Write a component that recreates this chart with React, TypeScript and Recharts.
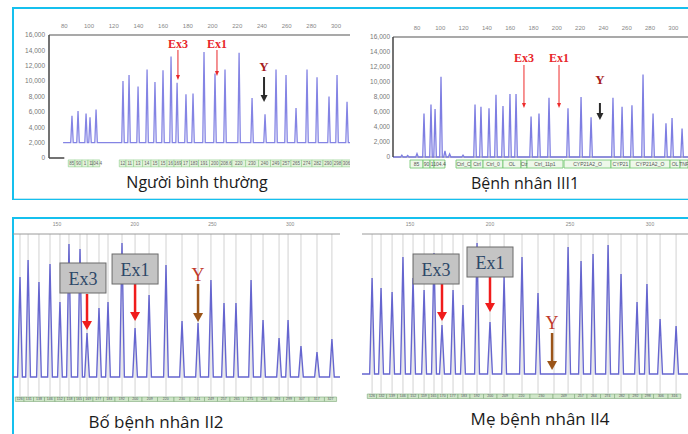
import React from 'react';
import { LineChart, Line, XAxis, YAxis, ReferenceLine, ReferenceArea, ReferenceDot } from 'recharts';

// ---- Người bình thường (top left) ----
const tlSizes = [86.2, 91.1, 97.6, 100.8, 105.7, 127.5, 132.4, 139.7, 147, 153.4, 159.9, 166.4, 171.3, 178.5, 184.2, 193.1, 202, 210.1, 221.5, 232, 242.5, 251.4, 259.5, 267.6, 276.5, 284.6, 294.3, 300.8, 308.9];
const tlHeights = [5500, 6100, 5800, 5300, 6300, 10000, 10800, 9300, 11500, 9900, 11400, 13200, 9800, 8300, 8400, 13800, 11000, 11500, 13700, 7800, 5700, 11500, 10800, 6500, 11500, 10500, 8000, 10800, 7300];
const tlLabels = ['85', '90', '1', '1', '104.4', '12', '11', '13', '14', '15', '15', '16', '169', '17', '183', '191', '200', '208.6', '220', '230', '240', '249', '257', '265', '274', '282', '290', '298', '306'];
const tlRuler = [80, 100, 120, 140, 160, 180, 200, 220, 240, 260, 280, 300];
const tlAnnText = ['Ex3', 'Ex1', 'Y'];
const tlAnnX = [172, 203.6, 241.7];
const tlAnnLabelY = [14830, 14830, 11840];
const tlAnnFrom = [14050, 14050, 10540];
const tlAnnTo = [10150, 10670, 7280];

// ---- Bệnh nhân III1 (top right) ----
const trSizes = [86, 92, 95.5, 100.6, 129.8, 134.9, 141.8, 147.8, 153.8, 159.8, 165, 177.9, 184.7, 193.3, 209.6, 220.8, 229.4, 248.2, 256, 264.5, 274, 282.6, 293.7, 298.9, 307.5];
const trHeights = [5800, 7000, 6400, 10700, 7000, 6700, 6500, 8300, 6800, 8400, 8400, 5400, 5800, 7900, 6500, 8000, 5300, 7900, 6700, 6900, 11000, 5800, 4500, 5200, 3800];
const trMinorSizes = [67, 72, 80, 104, 108, 119.5];
const trMinorHeights = [250, 200, 450, 800, 400, 250];
const trLabelText = ['85', '90', '1', '104.4', 'Ctrl_C', 'Ctrl', 'Ctrl_0', 'OL', 'Ctr', 'Ctrl_11p1', 'CYP21A2_O', 'CYP21', 'CYP21A2_O', 'OL', 'TNF'];
const trLabelFrom = [74, 85.2, 91.2, 94.6, 113.5, 126.4, 136.7, 153.8, 169.3, 174.4, 206.2, 246.5, 262.8, 297.2, 305.8];
const trLabelTo = [85.2, 91.2, 94.6, 104, 126.4, 136.7, 153.8, 169.3, 174.4, 205.3, 246.5, 262.8, 297.2, 305.8, 312.6];
const trRuler = [80, 100, 120, 140, 160, 180, 200, 220, 240, 260, 280, 300];
const trAnnText = ['Ex3', 'Ex1', 'Y'];
const trAnnX = [171.8, 201.9, 237];
const trAnnLabelY = [13200, 13200, 10400];
const trAnnFrom = [12270, 12270, 7200];
const trAnnTo = [6530, 6530, 4930];

// ---- Bố bệnh nhân II2 (bottom left) ----
const blSizes = [126.2, 131.4, 138.4, 145.5, 151.9, 157.7, 164.8, 169.3, 177, 182.8, 191.8, 200.2, 209.2, 220.1, 230.4, 240.7, 249, 257.4, 265.1, 274.8, 282.5, 292.8, 298.6, 306.9, 317.2, 326.8];
const blHeights = [10000, 11700, 9500, 11300, 7500, 13300, 12800, 4400, 6900, 7500, 13400, 4900, 8200, 11200, 5600, 5400, 9700, 7400, 7400, 9700, 5700, 3900, 5700, 3100, 2500, 3800];
const blRuler = [150, 200, 250, 300];
const blAnnText = ['Ex3', 'Ex1', 'Y'];
const blAnnX = [169.3, 200.2, 240.7];
const blBoxX = [166.7, 200.2, 240.7];
const blLabelY = [9900, 10800, 10200];
const blAnnFrom = [8300, 9300, 9300];
const blAnnTo = [4700, 5600, 5500];

// ---- Mẹ bệnh nhân II4 (bottom right) ----
const brSizes = [126.3, 131.9, 138.8, 145.6, 151.9, 158.8, 165, 170, 176.9, 183.1, 191.9, 200, 208.8, 220, 230, 248.8, 256.9, 264.4, 273.8, 281.9, 291.9, 298.1, 306.3, 316.3];
const brHeights = [9600, 8600, 8200, 11700, 9600, 8400, 12100, 4900, 8400, 6900, 13100, 5200, 9700, 11700, 8100, 12700, 11300, 12000, 12900, 10000, 7200, 9000, 5500, 4800];
const brRuler = [150, 200, 250, 300];
const brAnnText = ['Ex3', 'Ex1', 'Y'];
const brAnnX = [170, 200, 238.8];
const brBoxX = [166.3, 200, 238.8];
const brLabelY = [10500, 11200, 5100];
const brAnnFrom = [9000, 9700, 4100];
const brAnnTo = [5300, 6200, 400];

const CYAN = '#15c0ee';
const SANS = 'Liberation Sans, Arial, sans-serif';

function buildTrace(sizes: number[], heights: number[], base: number, hw: number, start: number, end: number) {
  const pts = [{ x: start, y: base }, { x: end, y: base }];
  sizes.forEach((s, i) => {
    pts.push({ x: s - hw, y: base }, { x: s, y: heights[i] }, { x: s + hw, y: base });
  });
  return pts.sort((a, b) => a.x - b.x);
}

// label boxes from neighbouring peaks
function labelBoxes(sizes: number[], gap: number) {
  return sizes.map((s, i) => {
    const prev = sizes[i - 1];
    const next = sizes[i + 1];
    const left = prev !== undefined && s - prev < gap ? (prev + s) / 2 : s - 3;
    const right = next !== undefined && next - s < gap ? (s + next) / 2 : s + 3;
    return [left, right];
  });
}

const fmt = (v: number) => v.toLocaleString('en-US');

const arrowShape = (color: string, w: number, headW: number, headH: number) => (p: any) => {
  const { x1, y1, x2, y2 } = p;
  if (x1 == null) return <g />;
  return (
    <g>
      <line x1={x1} y1={y1} x2={x2} y2={y2 - headH + 1} stroke={color} strokeWidth={w} />
      <polygon points={`${x2 - headW / 2},${y2 - headH} ${x2 + headW / 2},${y2 - headH} ${x2},${y2}`} fill={color} />
    </g>
  );
};

const textShape = (text: string, color: string, size: number, family: string, weight: string) => (p: any) => (
  <text x={p.cx} y={p.cy} textAnchor="middle" dominantBaseline="central" fill={color} fontSize={size} fontFamily={family} fontWeight={weight}>
    {text}
  </text>
);

const boxShape = (text: string) => (p: any) => (
  <g>
    <rect x={p.cx - 23} y={p.cy - 15} width={46} height={30} fill="#c4c4c4" stroke="#6b6b6b" strokeWidth={1} />
    <text x={p.cx} y={p.cy + 1} textAnchor="middle" dominantBaseline="central" fill="#2e4868" fontSize={18} fontFamily="Liberation Serif, DejaVu Serif, serif">
      {text}
    </text>
  </g>
);

const tickStyle = { fontSize: 6.5, fill: '#777', fontFamily: SANS };
const rulerStyle = { fontSize: 6, fill: '#888', fontFamily: SANS };
const titleStyle: React.CSSProperties = {
  position: 'absolute',
  fontFamily: '"Open Sans", "Noto Sans", sans-serif',
  color: '#1b1b1b',
  lineHeight: 1,
  whiteSpace: 'nowrap',
  transform: 'translateX(-50%)',
};

const NormalChart = () => {
  const data = buildTrace(tlSizes, tlHeights, 2000, 1.0, 79, 311.3);
  const boxes = labelBoxes(tlSizes, 12);
  return (
    <LineChart width={350} height={200} data={data} margin={{ top: 23, right: 0, bottom: 42, left: 0 }}>
      <XAxis dataKey="x" type="number" orientation="top" height={12} domain={[67.6, 311.3]} ticks={tlRuler}
        tickLine={false} tick={rulerStyle} tickMargin={1} axisLine={{ stroke: '#555', strokeWidth: 1.2 }} allowDataOverflow />
      <YAxis type="number" width={49} domain={[0, 16000]} ticks={[0, 2000, 4000, 6000, 8000, 10000, 12000, 14000, 16000]}
        tickFormatter={fmt} tickLine={false} tickSize={2} tick={tickStyle} axisLine={{ stroke: '#444', strokeWidth: 1.5 }} />
      <ReferenceLine segment={[{ x: 67.6, y: 0 }, { x: 80, y: 0 }]} stroke="#444" strokeWidth={1.5} />
      {boxes.map((b, i) => (
        <ReferenceArea key={'l' + i} x1={b[0]} x2={b[1]} y1={-250} y2={-1150} ifOverflow="visible"
          fill="#e3f3dc" fillOpacity={1} stroke="#8fcf8a" strokeWidth={0.6}
          label={{ value: tlLabels[i], position: 'center', fontSize: 4.5, fill: '#666', fontFamily: SANS }} />
      ))}
      <Line type="linear" dataKey="y" stroke="#8484e4" strokeWidth={1.3} dot={false} isAnimationActive={false} />
      {tlAnnText.map((t, i) => (
        <ReferenceLine key={'a' + i} segment={[{ x: tlAnnX[i], y: tlAnnFrom[i] }, { x: tlAnnX[i], y: tlAnnTo[i] }]}
          shape={t === 'Y' ? arrowShape('#2a2a2a', 2, 7, 7) : arrowShape('#e8262a', 1, 4, 5)} />
      ))}
      {tlAnnText.map((t, i) => (
        <ReferenceDot key={'t' + i} x={tlAnnX[i]} y={tlAnnLabelY[i]} r={0}
          shape={textShape(t, t === 'Y' ? '#a61d1d' : '#e8262a', t === 'Y' ? 13 : 12, 'Liberation Serif, serif', 'bold')} />
      ))}
    </LineChart>
  );
};

const PatientChart = () => {
  const data = buildTrace(trSizes.concat(trMinorSizes), trHeights.concat(trMinorHeights), 0, 1.1, 59.4, 312.6);
  return (
    <LineChart width={343} height={200} data={data} margin={{ top: 25, right: 0, bottom: 43, left: 0 }}>
      <XAxis dataKey="x" type="number" orientation="top" height={12} domain={[59.4, 312.6]} ticks={trRuler}
        tickLine={false} tick={rulerStyle} tickMargin={1} axisLine={{ stroke: '#555', strokeWidth: 1.2 }} allowDataOverflow />
      <YAxis type="number" width={48} domain={[0, 16000]} ticks={[0, 2000, 4000, 6000, 8000, 10000, 12000, 14000, 16000]}
        tickFormatter={fmt} tickLine={false} tickSize={1} tick={tickStyle} axisLine={{ stroke: '#444', strokeWidth: 1.5 }} />
      <ReferenceLine y={0} stroke="#888" strokeWidth={1} />
      {trLabelText.map((t, i) => (
        <ReferenceArea key={'l' + i} x1={trLabelFrom[i]} x2={trLabelTo[i]} y1={-400} y2={-1470} ifOverflow="visible"
          fill="#eef8ea" fillOpacity={1} stroke="#6cc46a" strokeWidth={0.8}
          label={{ value: t, position: 'center', fontSize: 5, fill: '#555', fontFamily: SANS }} />
      ))}
      <Line type="linear" dataKey="y" stroke="#7e7ee2" strokeWidth={1.3} dot={false} isAnimationActive={false} />
      {trAnnText.map((t, i) => (
        <ReferenceLine key={'a' + i} segment={[{ x: trAnnX[i], y: trAnnFrom[i] }, { x: trAnnX[i], y: trAnnTo[i] }]}
          shape={t === 'Y' ? arrowShape('#2a2a2a', 2, 7, 7) : arrowShape('#ee2b2b', 1, 4, 5)} />
      ))}
      {trAnnText.map((t, i) => (
        <ReferenceDot key={'t' + i} x={trAnnX[i]} y={trAnnLabelY[i]} r={0}
          shape={textShape(t, t === 'Y' ? '#a61d1d' : '#e8262a', t === 'Y' ? 13 : 12, 'Liberation Serif, serif', 'bold')} />
      ))}
    </LineChart>
  );
};

const FamilyChart = ({ sizes, heights, domain, yDomain, ruler, annText, annX, boxX, labelY, from, to, margin, grid }: any) => {
  const data = buildTrace(sizes, heights, 0, 1.5, domain[0], domain[1]);
  const boxes = labelBoxes(sizes, 20);
  return (
    <LineChart width={343} height={234} data={data} margin={margin}>
      <XAxis dataKey="x" type="number" orientation="top" height={12} domain={domain} ticks={ruler}
        tickLine={false} tick={{ ...rulerStyle, fontSize: 5 }} tickMargin={2} axisLine={{ stroke: '#9a9a9a', strokeWidth: 1 }} allowDataOverflow />
      <YAxis hide type="number" domain={yDomain} />
      {grid.map((g: number, i: number) => (
        <ReferenceLine key={'g' + i} x={g} stroke="#d2d2d2" strokeWidth={1} />
      ))}
      {boxes.map((b, i) => (
        <ReferenceArea key={'l' + i} x1={b[0]} x2={b[1]} y1={-2000} y2={-2450} ifOverflow="visible"
          fill="#cfe6c8" fillOpacity={1} stroke="#7da878" strokeWidth={0.6}
          label={{ value: String(Math.round(sizes[i])), position: 'center', fontSize: 3.5, fill: '#556', fontFamily: SANS }} />
      ))}
      <Line type="linear" dataKey="y" stroke="#6666cf" strokeWidth={1.4} dot={false} isAnimationActive={false} />
      {annText.map((t: string, i: number) => (
        <ReferenceLine key={'a' + i} segment={[{ x: annX[i], y: from[i] }, { x: annX[i], y: to[i] }]}
          shape={t === 'Y' ? arrowShape('#9a5418', 2.5, 10, 9) : arrowShape('#f01c1c', 2.5, 10, 9)} />
      ))}
      {annText.map((t: string, i: number) => (
        <ReferenceDot key={'t' + i} x={boxX[i]} y={labelY[i]} r={0}
          shape={t === 'Y' ? textShape('Y', '#c0392b', 18, 'Liberation Serif, serif', 'normal') : boxShape(t)} />
      ))}
    </LineChart>
  );
};

export default function App() {
  return (
    <div style={{ position: 'absolute', left: 0, top: 0, width: 688, height: 434, overflow: 'hidden', background: '#fff' }}>
      <div style={{ position: 'absolute', left: 12, top: 7, width: 700, height: 193, border: `2.5px solid ${CYAN}`, boxSizing: 'border-box' }} />
      <div style={{ position: 'absolute', left: 14, top: 198, width: 690, height: 1, background: '#bfe8f4' }} />
      <div style={{ position: 'absolute', left: 12, top: 217, width: 700, height: 240, border: `2.5px solid ${CYAN}`, boxSizing: 'border-box' }} />

      <div style={{ position: 'absolute', left: 0, top: 0 }}><NormalChart /></div>
      <div style={{ position: 'absolute', left: 345, top: 0 }}><PatientChart /></div>
      <div style={{ position: 'absolute', left: 0, top: 200 }}>
        <FamilyChart sizes={blSizes} heights={blHeights} domain={[121.7, 332]} yDomain={[-2000, 14300]} ruler={blRuler}
          annText={blAnnText} annX={blAnnX} boxX={blBoxX} labelY={blLabelY} from={blAnnFrom} to={blAnnTo}
          margin={{ top: 22, right: 3, bottom: 37, left: 13 }} grid={blSizes} />
      </div>
      <div style={{ position: 'absolute', left: 345, top: 200 }}>
        <FamilyChart sizes={brSizes} heights={brHeights} domain={[120, 323.75]} yDomain={[-2000, 14000]} ruler={brRuler}
          annText={brAnnText} annX={brAnnX} boxX={brBoxX} labelY={brLabelY} from={brAnnFrom} to={brAnnTo}
          margin={{ top: 22, right: 0, bottom: 40, left: 17 }} grid={brSizes.concat([240])} />
      </div>

      <div style={{ ...titleStyle, left: 197, top: 174, fontSize: 16 }}>Người bình thường</div>
      <div style={{ ...titleStyle, left: 525, top: 175, fontSize: 16 }}>Bệnh nhân III1</div>
      <div style={{ ...titleStyle, left: 156, top: 413, fontSize: 17 }}>Bố bệnh nhân II2</div>
      <div style={{ ...titleStyle, left: 540, top: 410, fontSize: 17 }}>Mẹ bệnh nhân II4</div>
    </div>
  );
}
